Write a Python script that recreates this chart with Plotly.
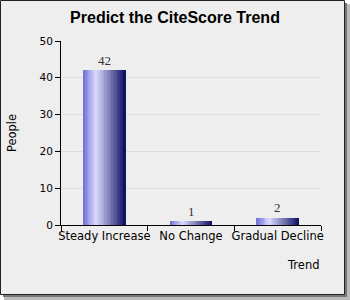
import plotly.graph_objects as go

categories = ["Steady Increase", "No Change", "Gradual Decline"]
people = [42, 1, 2]
y_ticks = [0, 10, 20, 30, 40, 50]

W, H = 350, 300
L, R, T, B = 61, 29, 41, 75
pw, ph = W - L - R, H - T - B

def px(x):
    return (x - L) / pw

def py(y):
    return (H - B - y) / ph

# gradient stops for bar fill
stops = [(0.0, (110, 110, 210)), (0.3, (220, 220, 255)), (1.0, (12, 12, 98))]

def grad(t):
    for (t0, c0), (t1, c1) in zip(stops[:-1], stops[1:]):
        if t <= t1:
            f = (t - t0) / (t1 - t0)
            return "rgb(%d,%d,%d)" % tuple(round(a + (b - a) * f) for a, b in zip(c0, c1))
    return "rgb(%d,%d,%d)" % stops[-1][1]

fig = go.Figure()
bar_w = 0.49
N = 24
sw = bar_w / N
for i in range(N):
    fig.add_trace(go.Bar(
        x=categories, y=people,
        width=sw * 1.35 if i < N - 1 else sw,
        offset=-bar_w / 2 + i * sw,
        marker=dict(color=grad((i + 0.5) / N), line=dict(width=0)),
        showlegend=False, hoverinfo="skip",
    ))

shapes = [
    # shadow
    dict(type="rect", xref="paper", yref="paper", x0=px(4), x1=px(350), y0=py(4), y1=py(300),
         fillcolor="#bbbbbb", line=dict(width=0), layer="below"),
    dict(type="rect", xref="paper", yref="paper", x0=px(3), x1=px(347), y0=py(3), y1=py(297),
         fillcolor="#777777", line=dict(width=0), layer="below"),
    # frame
    dict(type="rect", xref="paper", yref="paper", x0=px(0.5), x1=px(344.5), y0=py(0.5), y1=py(294.5),
         fillcolor="#EEEEEE", line=dict(width=1, color="#222222"), layer="below"),
]

annotations = [dict(text=str(v), x=c, y=v, xref="x", yref="y", yshift=10,
                    xanchor="center", yanchor="middle", showarrow=False,
                    font=dict(family="Liberation Serif, DejaVu Serif, serif", size=13, color="#333333"))
               for c, v in zip(categories, people)]
annotations.append(dict(text="Trend", xref="paper", yref="paper", x=px(321), y=py(265),
                        xanchor="right", yanchor="middle", showarrow=False,
                        font=dict(size=11.5)))

fig.update_layout(
    width=W, height=H,
    margin=dict(l=L, r=R, t=T, b=B),
    paper_bgcolor="white", plot_bgcolor="white",
    barmode="overlay", bargap=0,
    shapes=shapes,
    title=dict(text="<b>Predict the CiteScore Trend</b>", x=0.5, xref="container", xanchor="center",
               y=1 - 17 / H, yanchor="middle",
               font=dict(family="Liberation Sans, Arial, sans-serif", size=16, color="#000000")),
    font=dict(family="DejaVu Sans, sans-serif", size=11, color="#000000"),
    xaxis=dict(type="category", tickson="boundaries", ticks="outside", ticklen=5, tickcolor="#000",
               showline=True, linecolor="#000", linewidth=1, showgrid=False, automargin=False,
               tickangle=0, tickfont=dict(size=11.5), range=[-0.5, 2.5]),
    yaxis=dict(range=[0, 50], tickvals=y_ticks, ticks="outside", ticklen=5, tickcolor="#000",
               showline=True, linecolor="#000", linewidth=1, showgrid=True, gridcolor="#DDDDDD",
               zeroline=False, tickfont=dict(size=10.5), automargin=False,
               title=dict(text="People", font=dict(size=11.5), standoff=20)),
    annotations=annotations,
)

fig.write_html("out.html")
